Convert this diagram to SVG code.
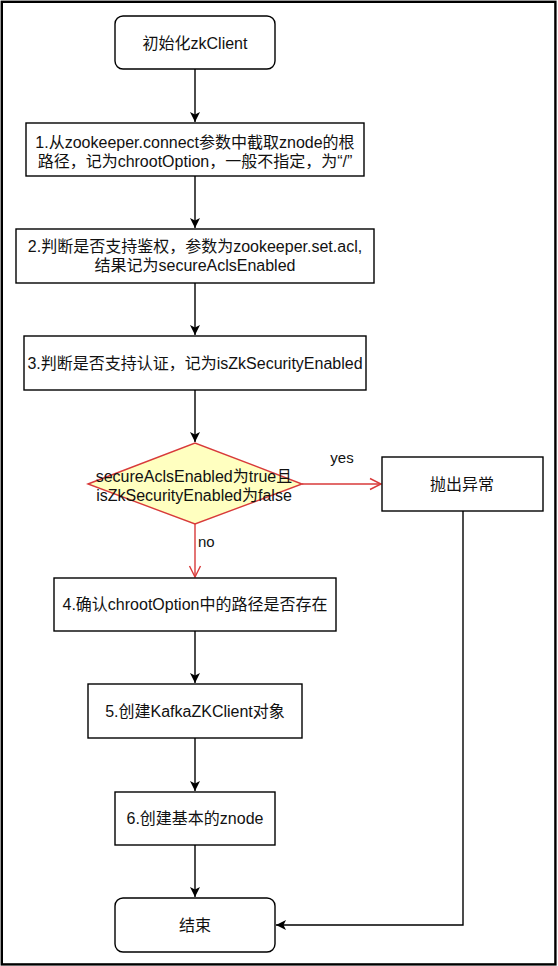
<svg xmlns="http://www.w3.org/2000/svg" width="558" height="966" viewBox="0 0 558 966">
<style>
  .box { fill: #ffffff; stroke: #000000; stroke-width: 1.4; }
  .dia { fill: #ffffc0; stroke: #d83a3a; stroke-width: 1.4; }
  .t { font-family: "Liberation Sans", "Noto Sans CJK SC", sans-serif; font-size: 16px; fill: #111111; text-anchor: middle; }
  .lbl { font-family: "Liberation Sans", "Noto Sans CJK SC", sans-serif; font-size: 15px; fill: #111111; }
  .edge { fill: none; stroke: #000000; stroke-width: 1.4; }
  .red { fill: none; stroke: #d83a3a; stroke-width: 1.4; }
</style>
<defs>
  <marker id="arrow" markerWidth="12" markerHeight="12" refX="10" refY="5" orient="auto" markerUnits="userSpaceOnUse" viewBox="0 0 12 10">
    <path d="M0,0 L10,5 L0,10 L2.5,5 Z" fill="#000000"/>
  </marker>
  <marker id="open" markerWidth="14" markerHeight="14" refX="12" refY="6" orient="auto" markerUnits="userSpaceOnUse" viewBox="0 0 14 12">
    <path d="M1,0.5 L12,6 L1,11.5" fill="none" stroke="#d83a3a" stroke-width="1.4"/>
  </marker>
</defs>
<rect x="0" y="0" width="558" height="966" fill="#ffffff"/>
<rect x="1.8" y="1.8" width="553.6" height="962.6" fill="none" stroke="#000000" stroke-width="2.4"/>

<g id="connectors">
  <line class="edge" x1="195" y1="69" x2="195" y2="122" marker-end="url(#arrow)"/>
  <line class="edge" x1="195" y1="176" x2="195" y2="228" marker-end="url(#arrow)"/>
  <line class="edge" x1="195" y1="283" x2="195" y2="335" marker-end="url(#arrow)"/>
  <line class="edge" x1="195" y1="390" x2="195" y2="442" marker-end="url(#arrow)"/>
  <line class="red" x1="302" y1="484" x2="381" y2="484" marker-end="url(#open)"/>
  <text class="lbl" x="342" y="463" text-anchor="middle">yes</text>
  <line class="red" x1="195" y1="524" x2="195" y2="577" marker-end="url(#open)"/>
  <text class="lbl" x="198" y="547">no</text>
  <line class="edge" x1="195" y1="631" x2="195" y2="683" marker-end="url(#arrow)"/>
  <line class="edge" x1="195" y1="738" x2="195" y2="791" marker-end="url(#arrow)"/>
  <line class="edge" x1="195" y1="845" x2="195" y2="897" marker-end="url(#arrow)"/>
  <polyline class="edge" points="463,511 463,925 276,925" marker-end="url(#arrow)"/>
</g>

<g id="start">
  <rect class="box" x="115" y="16" width="160" height="53" rx="8" ry="8"/>
  <text class="t" x="195" y="48.5">初始化zkClient</text>
</g>
<g id="step1">
  <rect class="box" x="26" y="123" width="338" height="53"/>
  <text class="t" x="195" y="148">1.从zookeeper.connect参数中截取znode的根</text>
  <text class="t" x="195" y="166.5">路径，记为chrootOption，一般不指定，为“/”</text>
</g>
<g id="step2">
  <rect class="box" x="16" y="229" width="358" height="54"/>
  <text class="t" x="195" y="252">2.判断是否支持鉴权，参数为zookeeper.set.acl,</text>
  <text class="t" x="195" y="271">结果记为secureAclsEnabled</text>
</g>
<g id="step3">
  <rect class="box" x="24" y="336" width="342" height="54"/>
  <text class="t" x="195" y="369">3.判断是否支持认证，记为isZkSecurityEnabled</text>
</g>
<g id="decision">
  <polygon class="dia" points="88,484 195,443 302,484 195,524"/>
  <text class="t" x="194" y="481.5">secureAclsEnabled为true且</text>
  <text class="t" x="194" y="500.5">isZkSecurityEnabled为false</text>
</g>
<g id="throw">
  <rect class="box" x="382" y="457" width="161" height="54"/>
  <text class="t" x="462" y="489.5">抛出异常</text>
</g>
<g id="step4">
  <rect class="box" x="54" y="578" width="282" height="53"/>
  <text class="t" x="195" y="609.5">4.确认chrootOption中的路径是否存在</text>
</g>
<g id="step5">
  <rect class="box" x="88" y="684" width="214" height="54"/>
  <text class="t" x="195" y="716.5">5.创建KafkaZKClient对象</text>
</g>
<g id="step6">
  <rect class="box" x="115" y="792" width="160" height="53"/>
  <text class="t" x="195" y="823.5">6.创建基本的znode</text>
</g>
<g id="end">
  <rect class="box" x="115" y="898" width="160" height="54" rx="8" ry="8"/>
  <text class="t" x="195" y="930.5">结束</text>
</g>
</svg>
